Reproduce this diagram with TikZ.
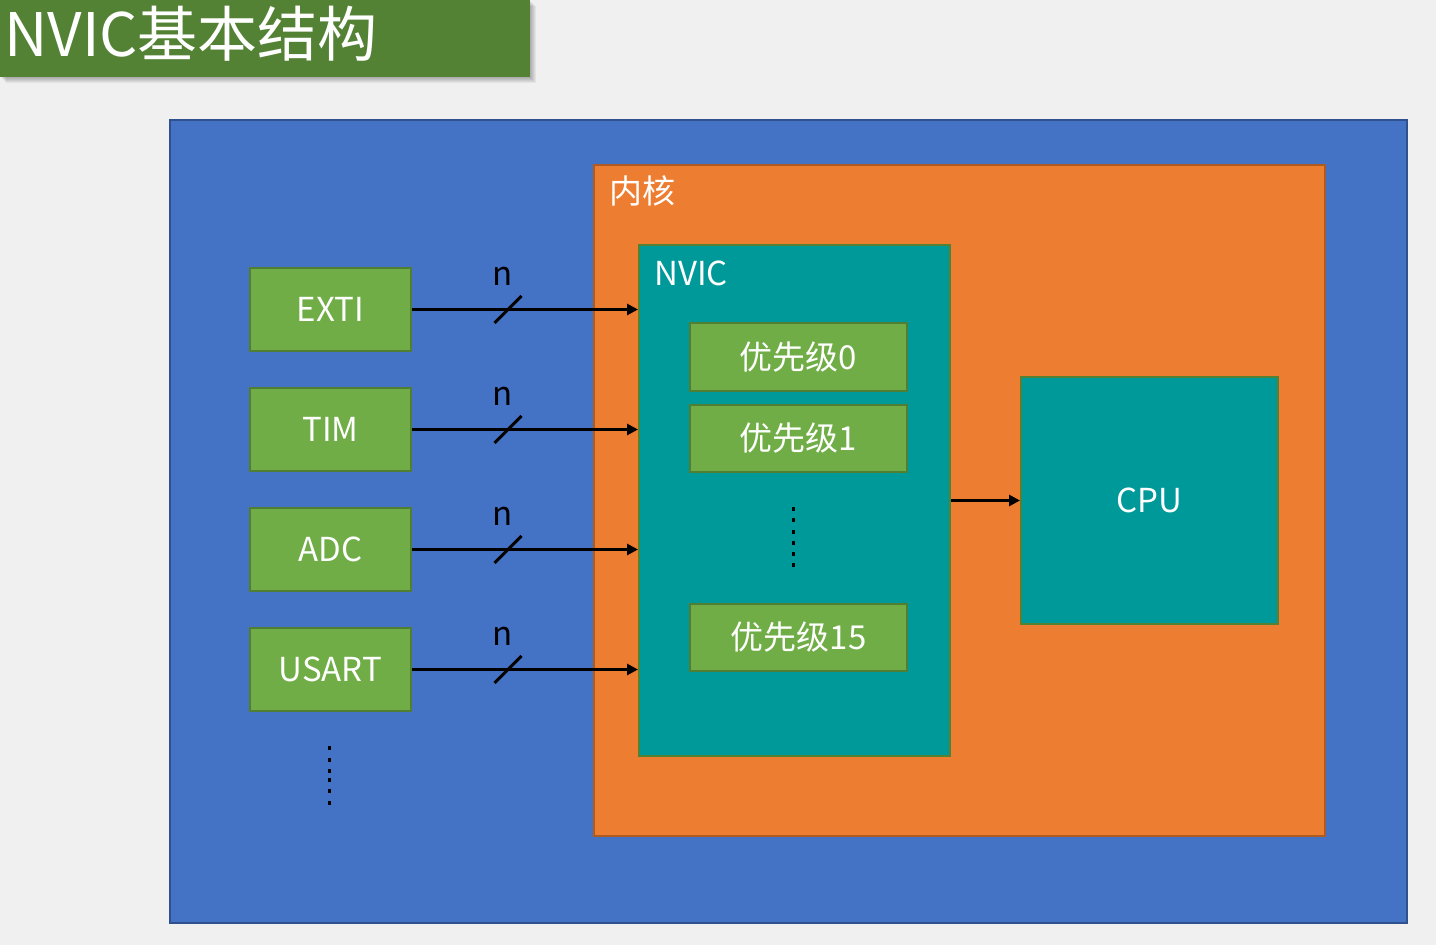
\documentclass[tikz,border=0pt]{standalone}
\usepackage{fontspec}
\setmainfont{Noto Sans CJK SC}
\usetikzlibrary{arrows.meta}
\definecolor{bgc}{HTML}{F0F0F0}
\definecolor{titleg}{HTML}{548235}
\definecolor{bluef}{HTML}{4472C4}
\definecolor{blued}{HTML}{2F528F}
\definecolor{orangef}{HTML}{ED7D31}
\definecolor{oranged}{HTML}{AE5A21}
\definecolor{tealf}{HTML}{009999}
\definecolor{greenf}{HTML}{70AD47}
\definecolor{greend}{HTML}{507E32}
\tikzset{
  box/.style={rectangle, anchor=north west, inner sep=0, line width=2pt, text=white,
    font=\fontsize{33}{40}\selectfont},
  srcbox/.style={box, fill=greenf, draw=greend, minimum width=161, minimum height=83},
  pribox/.style={box, fill=greenf, draw=greend, minimum width=217, minimum height=67},
  tealbox/.style={box, fill=tealf, draw=titleg},
  lbl/.style={inner sep=0, text=white, font=\fontsize{33}{40}\selectfont},
  nlbl/.style={inner sep=0, text=black, font=\fontsize{33}{40}\selectfont},
  arr/.style={line width=3pt, -{Triangle[length=11pt,width=11pt]}},
  slashline/.style={line width=3pt},
}
\begin{document}
\begin{tikzpicture}[x=1pt,y=-1pt]
\useasboundingbox (0,0) rectangle (1436,945);
\fill[bgc] (0,0) rectangle (1436,945);
% title with soft shadow
\foreach \i in {1,...,6} {
  \fill[black,opacity=0.05] (\i,\i) rectangle (530+\i,77+\i);
}
\node[box, fill=titleg, minimum width=530, minimum height=77, line width=0pt] (title) at (0,0) {};
\node[inner sep=0, anchor=base west, text=white, font=\fontsize{60}{70}\selectfont] (titletext) at (4,56) {NVIC基本结构};
% outer blue region
\node[box, fill=bluef, draw=blued, minimum width=1237, minimum height=803] (outer) at (169,119) {};
% core
\node[box, fill=orangef, draw=oranged, minimum width=731, minimum height=671] (core) at (593,164) {};
\node[lbl, anchor=west] (corelbl) at (609,191) {内核};
% NVIC
\node[tealbox, minimum width=311, minimum height=511] (nvic) at (638,244) {};
\node[lbl, anchor=west] (nviclbl) at (654,273) {NVIC};
\node[pribox, minimum height=68] (p0) at (689,322) {优先级0};
\node[pribox] (p1) at (689,404) {优先级1};
\node[pribox] (p15) at (689,603) {优先级15};
\foreach \y in {509,520,532,543,554,565} {
  \fill[black] (791.5,\y-1.75) rectangle ++(3.5,3.5);
}
% CPU
\node[tealbox, minimum width=257, minimum height=247] (cpu) at (1020,376) {CPU};
\draw[arr] (nvic.east |- cpu.west) -- (cpu.west);
% sources
\node[srcbox] (exti) at (249,267) {EXTI};
\node[srcbox] (tim) at (249,387) {TIM};
\node[srcbox] (adc) at (249,507) {ADC};
\node[srcbox] (usart) at (249,627) {USART};
\foreach \s/\k in {exti/1,tim/2,adc/3,usart/4} {
  \draw[arr] (\s.east) -- (\s.east -| nvic.west) coordinate[pos=0.425] (m\k);
  \draw[slashline] ([shift={(-13.5,13.5)}]m\k) -- ([shift={(13.5,-13.5)}]m\k);
  \node[nlbl, anchor=base] (n\k) at ([shift={(-5,-24)}]m\k) {n};
}
\foreach \y in {748,760,771,780,791,803} {
  \fill[black] (327.5,\y-1.75) rectangle ++(3.5,3.5);
}
\end{tikzpicture}
\end{document}
